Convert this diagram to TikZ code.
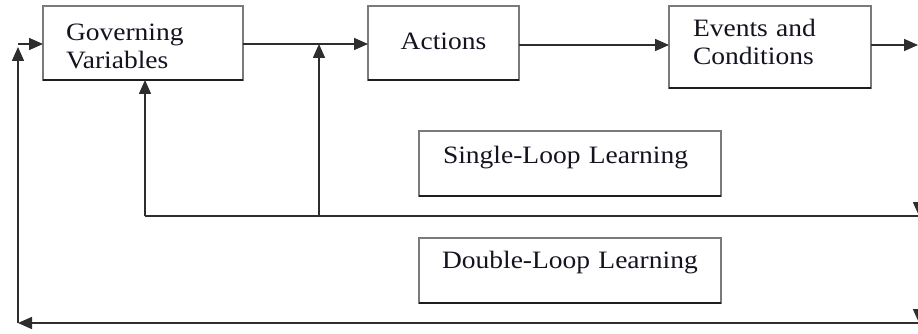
\documentclass[tikz,border=0pt]{standalone}
\usepackage{fontspec}
\setmainfont{Liberation Serif}[FakeStretch=1.1]
\usetikzlibrary{arrows.meta}
\definecolor{edgegray}{HTML}{7A7A7A}
\definecolor{edgedark}{HTML}{1E1E1E}
\definecolor{wire}{HTML}{2E2E2E}
\definecolor{ink}{HTML}{141420}
\begin{document}
\begin{tikzpicture}[x=1pt,y=-1pt,
  box/.style={draw=edgegray, line width=1.5pt, fill=white, inner sep=0pt, outer sep=0pt,
              font=\fontsize{25}{27.5}\selectfont, text=ink},
  base/.style={draw=edgedark, line width=2pt},
  wirearrow/.style={draw=wire, line width=1.6pt, -{Triangle[length=14pt,width=12pt]}},
  wireline/.style={draw=wire, line width=1.6pt}]

\useasboundingbox (0,0) rectangle (918,334);

% top row of boxes
\node[box, minimum width=200pt, minimum height=74pt, text width=154pt, align=left]
  (gv) at (143,43) {\rule{0pt}{23pt}Governing\\Variables};
\node[box, minimum width=151pt, minimum height=74pt, text height=18pt, text depth=4pt]
  (act) at (443.5,43) {Actions};
\node[box, minimum width=202pt, minimum height=82pt, text width=154pt, align=left]
  (ev) at (770,47) {Events and\\Conditions\rule[-10pt]{0pt}{10pt}};

% loop labels
\node[box, minimum width=302pt, minimum height=65pt, text width=254pt, align=left,
      text height=17pt, text depth=18pt]
  (sll) at (570,163.5) {Single-Loop Learning};
\node[box, minimum width=302pt, minimum height=65pt, text width=256pt, align=left,
      text height=17pt, text depth=22pt]
  (dll) at (570,270.5) {Double-Loop Learning};

% darker lower edges
\foreach \b in {gv,act,ev,sll,dll}
  \draw[base] (\b.south west) -- (\b.south east);

% forward chain
\coordinate (outR) at (918,45);
\coordinate (gvOut) at (0,44);
\draw[wirearrow] (gv.east |- gvOut) -- (act.west |- gvOut);
\draw[wirearrow] (act.east |- outR) -- (ev.west |- outR);
\draw[wirearrow] (ev.east |- outR) -- (outR);

% single loop
\coordinate (sl) at (145,216);
\coordinate (sj) at (319,216);
\coordinate (sr) at (918,216);
\coordinate (sdrop) at (919,202);
\draw[wireline] (sr) -- (sl);
\draw[wirearrow] (sl) -- (sl |- gv.south);
\draw[wirearrow] (sj) -- (sj |- gvOut);
\draw[wirearrow] (sdrop) -- (sdrop |- sr);

% double loop
\coordinate (dr) at (918,323);
\coordinate (dl) at (18,323);
\coordinate (dtop) at (18,47);
\coordinate (din) at (18,44);
\coordinate (ddrop) at (919,309);
\draw[wirearrow] (dr) -- (dl);
\draw[wirearrow] (dl) -- (dtop);
\draw[wirearrow] (din) -- (gv.west |- din);
\draw[wirearrow] (ddrop) -- (ddrop |- dr);
\end{tikzpicture}
\end{document}
